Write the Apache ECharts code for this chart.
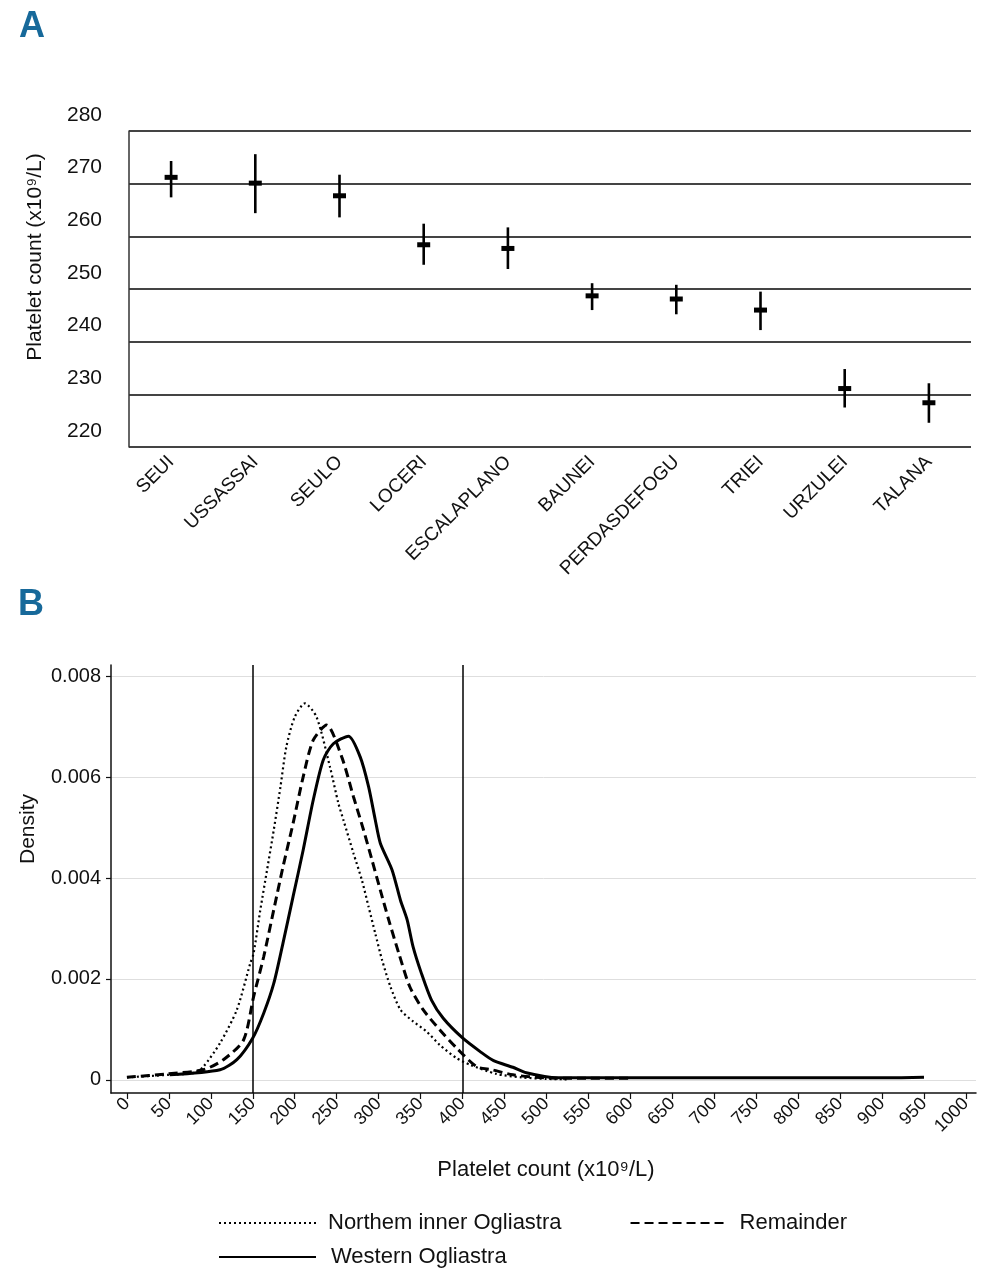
<!DOCTYPE html>
<html>
<head>
<meta charset="utf-8">
<script src="https://cdn.jsdelivr.net/npm/echarts@6/dist/echarts.min.js"></script>
<style>html,body{margin:0;padding:0;background:#fff}#c{width:1006px;height:1280px}</style>
</head>
<body>
<div id="c"></div>
<script>
// Panel A data
var villages = ['SEUI','USSASSAI','SEULO','LOCERI','ESCALAPLANO','BAUNEI','PERDASDEFOGU','TRIEI','URZULEI','TALANA'];
var meanCount = [271.2, 270.1, 267.7, 258.4, 257.7, 248.7, 248.1, 246.0, 231.1, 228.4];
var lowCount  = [267.4, 264.4, 263.6, 254.6, 253.8, 246.0, 245.2, 242.2, 227.5, 224.6];
var highCount = [274.3, 275.6, 271.7, 262.4, 261.7, 251.1, 250.8, 249.5, 234.8, 232.1];

// Panel B data (density curves)
var northX = [0, 50, 80, 91, 111, 131, 147, 151, 159, 167, 175, 183, 190, 200, 212, 226, 242, 252, 258, 270, 280, 288, 296, 304, 314, 326, 341, 357, 373, 393, 409, 440, 470, 500, 525];
var northY = [0.00005, 0.0001, 0.00014, 0.00026, 0.00073, 0.00139, 0.00231, 0.00251, 0.00337, 0.00416, 0.00495, 0.00581, 0.0066, 0.00719, 0.00746, 0.00719, 0.0062, 0.00548, 0.00515, 0.00449, 0.00396, 0.00343, 0.0029, 0.00238, 0.00185, 0.00139, 0.00116, 0.00096, 0.00069, 0.00043, 0.0003, 0.00012, 0.00005, 0.00002, 0.00001];
var remX = [0, 48, 91, 115, 139, 151, 163, 175, 186, 198, 210, 222, 238, 256, 270, 282, 292, 302, 312, 324, 337, 353, 373, 393, 417, 435, 460, 497, 550, 600];
var remY = [0.00005, 0.00012, 0.0002, 0.0004, 0.00079, 0.00165, 0.00244, 0.00337, 0.00422, 0.00508, 0.006, 0.00673, 0.00703, 0.0064, 0.00561, 0.00495, 0.00436, 0.00376, 0.00317, 0.00251, 0.00185, 0.00139, 0.00099, 0.00063, 0.00026, 0.0002, 0.0001, 0.00004, 0.00003, 0.00003];
var westX = [51, 111, 131, 150, 163, 175, 186, 198, 210, 222, 234, 246, 264, 278, 288, 296, 302, 316, 326, 334, 341, 351, 363, 377, 400, 421, 437, 460, 476, 513, 550, 600, 700, 800, 900, 950];
var westY = [0.0001, 0.0002, 0.0004, 0.00083, 0.00132, 0.00191, 0.00271, 0.00363, 0.00455, 0.00554, 0.00634, 0.00666, 0.00681, 0.0064, 0.00581, 0.00515, 0.00469, 0.00416, 0.00356, 0.00317, 0.00264, 0.00211, 0.00158, 0.00122, 0.00083, 0.00056, 0.00038, 0.00025, 0.00014, 0.00004, 0.00004, 0.00004, 0.00004, 0.00004, 0.00004, 0.00005];
var refLines = [150, 400];
var xTicksB = [0,50,100,150,200,250,300,350,400,450,500,550,600,650,700,750,800,850,900,950,1000];
var yTicksB = [0, 0.002, 0.004, 0.006, 0.008];
var seriesNames = ['Northem inner Ogliastra', 'Remainder', 'Western Ogliastra'];

function pairs(xs, ys) { return xs.map(function (x, i) { return [x, ys[i]]; }); }

var FONT = "'Liberation Sans',Arial,sans-serif";
var chart = echarts.init(document.getElementById('c'));

var errData = villages.map(function (v, i) { return [i, meanCount[i], lowCount[i], highCount[i]]; });

chart.setOption({
  animation: false,
  backgroundColor: '#fff',
  textStyle: { fontFamily: FONT, color: '#111' },
  grid: [
    { left: 129, right: 35, top: 131, height: 316, containLabel: false },
    { left: 111, right: 30, top: 665, height: 428, containLabel: false }
  ],
  xAxis: [
    {
      gridIndex: 0, type: 'category', data: villages, boundaryGap: true,
      axisLine: { show: false }, axisTick: { show: false },
      axisLabel: { rotate: 45, fontSize: 19, color: '#111', margin: 12, fontFamily: FONT, interval: 0 }
    },
    {
      gridIndex: 1, type: 'value', min: -19, max: 1012,
      axisLine: { show: true, onZero: false, lineStyle: { color: '#111', width: 1.5 } },
      axisTick: { show: true, customValues: xTicksB, length: 6, lineStyle: { color: '#111', width: 1.2 } },
      axisLabel: { customValues: xTicksB, rotate: 45, fontSize: 18, color: '#111', margin: 8, fontFamily: FONT,
        formatter: function (v) { return String(v); } },
      splitLine: { show: false }
    }
  ],
  yAxis: [
    {
      gridIndex: 0, type: 'value', min: 220, max: 280, interval: 10,
      axisLine: { show: true, lineStyle: { color: '#333', width: 1.5 } },
      axisTick: { show: false },
      axisLabel: { fontSize: 21, color: '#111', margin: 27, fontFamily: FONT, verticalAlign: 'bottom', lineHeight: 22, padding: [0, 0, 5, 0] },
      splitLine: { show: true, lineStyle: { color: '#444', width: 2 } }
    },
    {
      gridIndex: 1, type: 'value', min: -0.00026, max: 0.00822,
      axisLine: { show: true, onZero: false, lineStyle: { color: '#111', width: 1.5 } },
      axisTick: { show: true, customValues: yTicksB, length: 5, lineStyle: { color: '#111', width: 1.2 } },
      axisLabel: { customValues: yTicksB, fontSize: 20, color: '#111', margin: 10, fontFamily: FONT,
        formatter: function (v) { return v === 0 ? '0' : v.toFixed(3); } },
      splitLine: { show: true, lineStyle: { color: '#dedede', width: 1 } }
    }
  ],
  legend: [
    {
      data: [seriesNames[0], seriesNames[1]], left: 213, top: 1207, orient: 'horizontal',
      itemWidth: 97, itemHeight: 14, itemGap: 68,
      itemStyle: { opacity: 0 },
      textStyle: { fontSize: 22, color: '#111', fontFamily: FONT, padding: [0, 0, 0, 7] }
    },
    {
      data: [seriesNames[2]], left: 213, top: 1241, orient: 'horizontal',
      itemWidth: 97, itemHeight: 14,
      itemStyle: { opacity: 0 },
      textStyle: { fontSize: 22, color: '#111', fontFamily: FONT, padding: [0, 0, 0, 10] }
    }
  ],
  series: [
    {
      type: 'custom', xAxisIndex: 0, yAxisIndex: 0, data: errData,
      encode: { x: 0, y: [1, 2, 3] },
      renderItem: function (params, api) {
        var c = api.coord([api.value(0), api.value(1)]);
        var lo = api.coord([api.value(0), api.value(2)]);
        var hi = api.coord([api.value(0), api.value(3)]);
        return {
          type: 'group',
          children: [
            { type: 'line', shape: { x1: c[0], y1: lo[1], x2: c[0], y2: hi[1] }, style: { stroke: '#000', lineWidth: 2.6 } },
            { type: 'rect', shape: { x: c[0] - 6.5, y: c[1] - 2.5, width: 13, height: 5 }, style: { fill: '#000' } }
          ]
        };
      }
    },
    {
      name: seriesNames[0], type: 'line', xAxisIndex: 1, yAxisIndex: 1,
      data: pairs(northX, northY), smooth: 0.25, symbol: 'none',
      lineStyle: { color: '#000', width: 2.2, type: [2, 3] }, itemStyle: { color: '#000' }
    },
    {
      name: seriesNames[1], type: 'line', xAxisIndex: 1, yAxisIndex: 1,
      data: pairs(remX, remY), smooth: 0.25, symbol: 'none',
      lineStyle: { color: '#000', width: 3, type: [9, 5] }, itemStyle: { color: '#000' }
    },
    {
      name: seriesNames[2], type: 'line', xAxisIndex: 1, yAxisIndex: 1,
      data: pairs(westX, westY), smooth: 0.25, symbol: 'none',
      lineStyle: { color: '#000', width: 3 }, itemStyle: { color: '#000' },
      markLine: {
        silent: true, symbol: 'none', label: { show: false },
        lineStyle: { color: '#000', width: 1.5, type: 'solid' },
        data: refLines.map(function (v) { return { xAxis: v }; })
      }
    }
  ],
  graphic: [
    { type: 'text', left: 19, top: 9, style: { text: 'A', fontSize: 36, fontWeight: 'bold', fill: '#17699a', fontFamily: FONT } },
    { type: 'text', left: 18, top: 587, style: { text: 'B', fontSize: 36, fontWeight: 'bold', fill: '#17699a', fontFamily: FONT } },
    { type: 'text', x: 35, y: 257, rotation: Math.PI / 2, style: { text: 'Platelet count (x10⁹/L)', fontSize: 21, fill: '#111', fontFamily: FONT, align: 'center', verticalAlign: 'middle' } },
    { type: 'text', x: 28, y: 829, rotation: Math.PI / 2, style: { text: 'Density', fontSize: 21, fill: '#111', fontFamily: FONT, align: 'center', verticalAlign: 'middle' } },
    { type: 'text', x: 546, y: 1170, style: { text: 'Platelet count (x10⁹/L)', fontSize: 22, fill: '#111', fontFamily: FONT, align: 'center', verticalAlign: 'middle' } }
  ]
});
</script>
</body>
</html>
